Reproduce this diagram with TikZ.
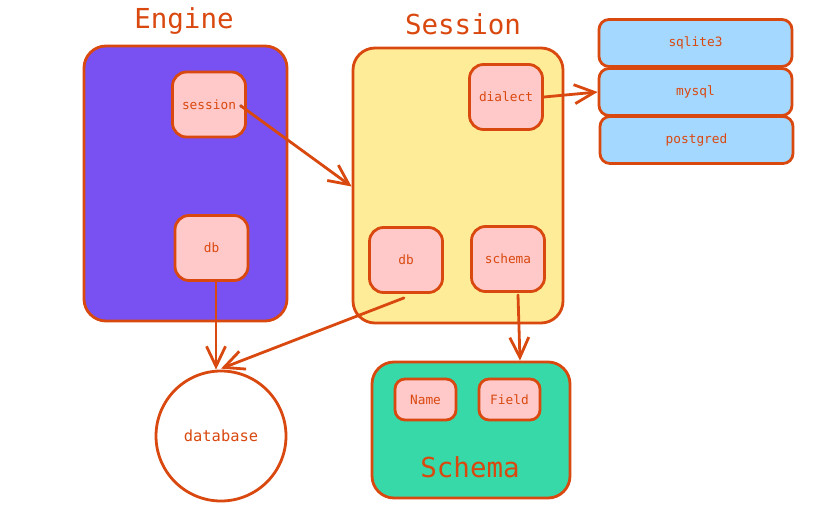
\documentclass[tikz,border=0pt]{standalone}
\usepackage{fontspec}
\setmonofont{DejaVu Sans Mono}
\usetikzlibrary{arrows.meta}
\definecolor{stroke}{HTML}{D9480F}
\definecolor{violet}{HTML}{7950F2}
\definecolor{yel}{HTML}{FFEC99}
\definecolor{pinkf}{HTML}{FFC9C9}
\definecolor{bluef}{HTML}{A5D8FF}
\definecolor{greenf}{HTML}{38D9A9}
\tikzset{
  base/.style={draw=stroke, line width=2.8pt, text=stroke, font=\ttfamily\fontsize{12.8}{14}\selectfont, inner sep=0pt},
  big/.style={base, rounded corners=22pt},
  inner/.style={base, fill=pinkf, rounded corners=14pt, minimum width=73pt, minimum height=65pt},
  small/.style={base, fill=pinkf, rounded corners=10pt, minimum width=61pt, minimum height=41pt},
  dial/.style={base, fill=bluef, rounded corners=10pt, minimum width=193pt, minimum height=47pt},
  title/.style={text=stroke, font=\ttfamily\fontsize{27.5}{30}\selectfont, inner sep=0pt},
  conn/.style={draw=stroke, line width=2.8pt, line cap=round, -{Straight Barb[length=20pt, width=19pt, line width=2.8pt]}}
}
\begin{document}
\begin{tikzpicture}[x=1pt, y=-1pt]
\useasboundingbox (0,0) rectangle (818,518);
% titles
\node[title] (tEngine) at (184,21.5) {Engine};
\node[title] (tSession) at (463,24.5) {Session};
% main containers
\node[big, fill=violet, minimum width=203pt, minimum height=275pt] (engine) at (185.5,183.5) {};
\node[big, fill=yel, minimum width=210pt, minimum height=275pt] (session) at (458,185.5) {};
\node[big, fill=greenf, minimum width=198pt, minimum height=136pt] (schemabox) at (471,430) {};
\node[title] (tSchema) at (470,467) {Schema};
% inner boxes
\node[inner] (esession) at (209,104.5) {session};
\node[inner] (edb) at (211.5,248) {db};
\node[inner] (dialect) at (506,97) {dialect};
\node[inner] (sdb) at (406,260) {db};
\node[inner] (schema) at (508,259) {schema};
\node[small] (name) at (425.5,399.5) {Name};
\node[small] (field) at (509.5,399.5) {Field};
% dialects
\node[dial] (sqlite) at (695.5,43) {sqlite3};
\node[dial] (mysql) at (695.5,92) {mysql};
\node[dial] (postgred) at (696.5,140) {postgred};
% database
\node[base, circle, fill=white, minimum size=130pt, font=\ttfamily\fontsize{15.4}{17}\selectfont] (database) at (221,436) {database};
% connectors
\coordinate (s1) at (241,106);
\fill[stroke] (s1) circle (1.7pt);
\draw[conn] (s1) -- ([yshift=-1pt]session.west);
\draw[conn] (dialect.east) -- (mysql.west);
\draw[conn] ([xshift=4.5pt]edb.south) -- ([xshift=-5pt]database.north);
\draw[conn] ([xshift=-2pt,yshift=-4pt]sdb.south) -- ([yshift=1pt]database.north);
\draw[conn] ([xshift=10pt,yshift=-2pt]schema.south) -- ([xshift=49pt]schemabox.north);
\end{tikzpicture}
\end{document}
